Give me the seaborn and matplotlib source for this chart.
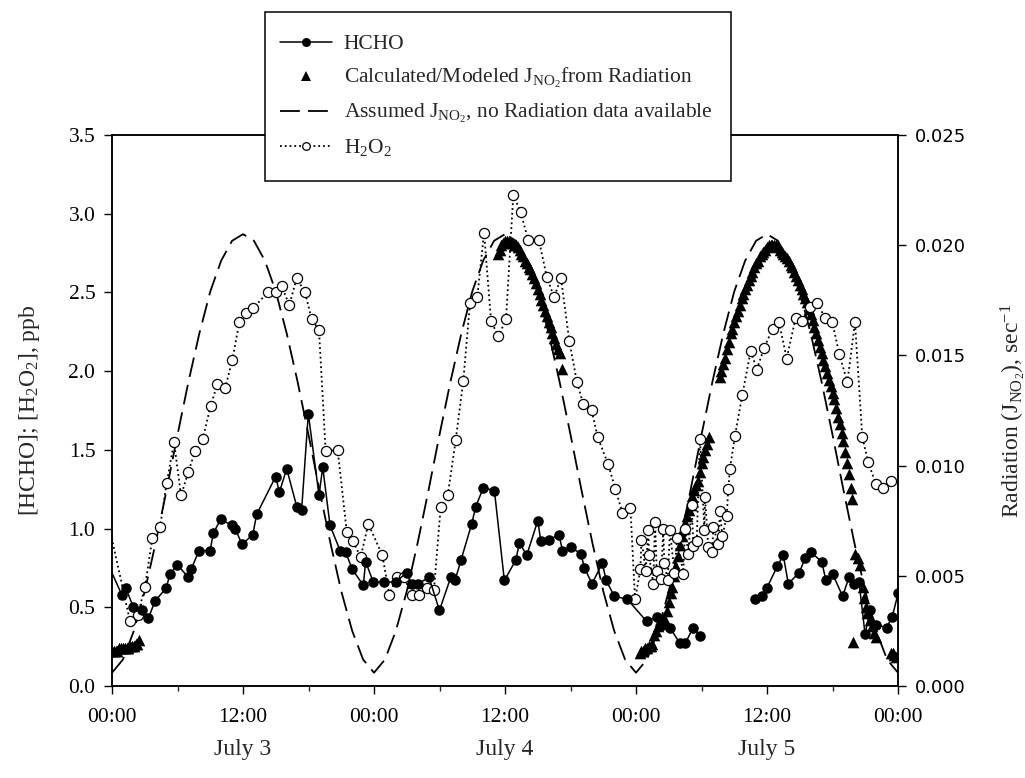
import matplotlib
matplotlib.use("Agg")
import matplotlib.pyplot as plt
import matplotlib.transforms as mtransforms
import numpy as np
import pandas as pd
import seaborn as sns
from matplotlib.lines import Line2D
from matplotlib.patches import Rectangle
from matplotlib.ticker import MultipleLocator, FixedLocator, FormatStrFormatter

sns.set_style("ticks")
plt.rcParams['font.family'] = ['Liberation Serif', 'DejaVu Serif']
plt.rcParams['mathtext.fontset'] = 'custom'
plt.rcParams['mathtext.rm'] = 'Liberation Serif'
plt.rcParams['mathtext.it'] = 'Liberation Serif:italic'
plt.rcParams['mathtext.bf'] = 'Liberation Serif:bold'

# ---------------- data (hours since July 3, 00:00) ----------------
hcho_hours = [-0.6, 0.89, 1.28, 1.95, 2.72, 3.33, 3.94, 4.95, 5.31, 5.98, 6.99, 7.24, 7.97,
              8.98, 9.28, 9.96, 10.96, 11.27, 11.91, 12.89, 13.25, 14.99, 15.33, 16.0, 16.92,
              17.37, 17.98, 18.96, 19.30, 19.97, 20.89, 21.4, 22.01, 23.02, 23.23, 23.93,
              24.94, 26.0, 26.99, 27.45, 28.06, 29.04, 29.99, 31.03, 31.42, 31.97, 32.95,
              33.32, 34.02, 35.03, 35.94, 36.99, 37.32, 37.99, 39.0, 39.28, 40.04, 40.95,
              41.26, 42.03, 42.96, 43.27, 43.97, 44.92, 45.26, 46.02, 47.21, 48.98, 49.90,
              50.2, 51.11, 52.03, 52.49, 53.25, 53.86,
              58.90, 59.51, 59.97, 60.94, 61.49, 61.95, 62.96, 63.48, 64.00, 65.01, 65.40,
              66.02, 66.93, 67.51, 67.97, 68.43, 68.98, 69.43, 69.98, 70.96, 71.47, 72.02]
hcho_ppb = [0.81, 0.58, 0.62, 0.50, 0.48, 0.43, 0.54, 0.62, 0.71, 0.77, 0.69, 0.74, 0.86,
            0.86, 0.97, 1.06, 1.02, 1.00, 0.90, 0.96, 1.09, 1.33, 1.23, 1.38, 1.14,
            1.12, 1.73, 1.21, 1.39, 1.02, 0.86, 0.85, 0.74, 0.64, 0.79, 0.66,
            0.66, 0.66, 0.72, 0.65, 0.65, 0.69, 0.48, 0.69, 0.67, 0.80, 1.03,
            1.14, 1.26, 1.24, 0.67, 0.80, 0.91, 0.83, 1.05, 0.92, 0.93, 0.96,
            0.86, 0.88, 0.84, 0.75, 0.65, 0.78, 0.67, 0.57, 0.55, 0.41, 0.44,
            0.38, 0.37, 0.27, 0.27, 0.37, 0.32,
            0.55, 0.57, 0.62, 0.76, 0.83, 0.65, 0.72, 0.81, 0.85, 0.79, 0.67,
            0.71, 0.57, 0.69, 0.65, 0.66, 0.33, 0.48, 0.39, 0.37, 0.44, 0.59]

h2o2_hours = [-0.6, 1.65, 2.35, 3.02, 3.69, 4.40, 5.01, 5.68, 6.32, 6.99, 7.60, 8.31, 9.04,
              9.65, 10.35, 11.02, 11.66, 12.27, 12.94, 14.26, 15.02, 15.54, 16.24, 16.92,
              17.68, 18.29, 18.96, 19.57, 20.67, 21.50, 22.05, 22.78, 23.48, 24.76, 25.4,
              26.08, 26.75, 27.45, 28.15, 28.82, 29.49, 30.11, 30.75, 31.48, 32.18, 32.79,
              33.46, 34.08, 34.72, 35.39, 36.09, 36.76, 37.43, 38.13, 39.11, 39.82, 40.49,
              41.13, 41.89, 42.59, 43.17, 43.94, 44.49, 45.44, 46.11, 46.76, 47.49, 47.91,
              48.40, 48.50, 48.89, 49.13, 49.19, 49.58, 49.74, 49.90, 50.29, 50.50, 50.59,
              50.90, 51.11, 51.51, 51.78, 52.33, 52.49, 52.79, 53.10, 53.25, 53.56, 53.86,
              54.26, 54.32, 54.62, 54.99, 55.08, 55.54, 55.69, 55.91, 56.31, 56.45, 56.60,
              57.07, 57.74, 58.51, 59.06, 59.75, 60.52, 61.10, 61.80, 62.63, 63.23, 63.94,
              64.61, 65.31, 65.98, 66.62, 67.36, 68.06, 68.73, 69.28, 69.98, 70.60, 71.36]
h2o2_ppb = [1.12, 0.41, 0.45, 0.63, 0.94, 1.01, 1.29, 1.55, 1.21, 1.36, 1.49, 1.57, 1.78,
            1.92, 1.89, 2.07, 2.31, 2.37, 2.40, 2.50, 2.50, 2.54, 2.42, 2.59,
            2.50, 2.33, 2.26, 1.49, 1.50, 0.98, 0.92, 0.82, 1.03, 0.83, 0.58,
            0.69, 0.69, 0.58, 0.58, 0.62, 0.61, 1.14, 1.21, 1.56, 1.94, 2.43,
            2.47, 2.88, 2.32, 2.22, 2.33, 3.12, 3.01, 2.83, 2.83, 2.60, 2.47,
            2.59, 2.19, 1.93, 1.79, 1.75, 1.58, 1.41, 1.25, 1.10, 1.13, 0.55,
            0.74, 0.93, 0.73, 0.99, 0.83, 0.65, 1.04, 0.73, 0.68, 1.00, 0.78,
            0.67, 0.99, 0.72, 0.94, 0.71, 1.00, 0.84, 1.15, 0.89, 0.92, 1.57,
            0.99, 1.20, 0.88, 0.85, 1.01, 0.90, 1.11, 0.95, 1.08, 1.25, 1.38,
            1.59, 1.85, 2.13, 2.01, 2.15, 2.27, 2.31, 2.08, 2.34, 2.32, 2.41,
            2.43, 2.34, 2.31, 2.11, 1.93, 2.31, 1.58, 1.42, 1.28, 1.26, 1.30]

# calculated J(NO2) from radiation, ~10-minute readings
jcalc_hours = [0.0, 0.17, 0.33, 0.5, 0.67, 0.83, 1.0, 1.17, 1.33, 1.5, 1.67, 1.83, 2.0,
               2.17, 2.33, 2.5,
               35.33, 35.5, 35.67, 35.83, 36.0, 36.17, 36.33, 36.5, 36.67, 36.83, 37.0,
               37.17, 37.33, 37.5, 37.67, 37.83, 38.0, 38.17, 38.33, 38.5, 38.67, 38.83,
               39.0, 39.17, 39.33, 39.5, 39.67, 39.83, 40.0, 40.17, 40.33, 40.5, 40.67,
               40.83, 41.0, 41.2,
               48.33, 48.5, 48.67, 48.83, 49.0, 49.17, 49.33, 49.5, 49.67, 49.83, 50.0,
               50.17, 50.33, 50.5, 50.67, 50.83, 51.0, 51.17, 51.33, 51.5, 51.67, 51.83,
               52.0, 52.17, 52.33, 52.5, 52.67, 52.83, 53.0, 53.17, 53.33, 53.5, 53.67,
               53.83, 54.0, 54.17, 54.33, 54.5, 54.67,
               55.67, 55.83, 56.0, 56.17, 56.33, 56.5, 56.67, 56.83, 57.0, 57.17, 57.33,
               57.5, 57.67, 57.83, 58.0, 58.17, 58.33, 58.5, 58.67, 58.83, 59.0, 59.17,
               59.33, 59.5, 59.67, 59.83, 60.0, 60.17, 60.33, 60.5, 60.67, 60.83, 61.0,
               61.17, 61.33, 61.5, 61.67, 61.83, 62.0, 62.17, 62.33, 62.5, 62.67, 62.83,
               63.0, 63.17, 63.33, 63.5, 63.67, 63.83, 64.0, 64.17, 64.33, 64.5, 64.67,
               64.83, 65.0, 65.17, 65.33, 65.5, 65.67, 65.83, 66.0, 66.17, 66.33, 66.5,
               66.67, 66.83, 67.0, 67.17, 67.33, 67.5, 67.67, 67.83,
               67.9, 68.1, 68.3, 68.5, 68.75, 68.9, 69.05, 69.2, 69.4, 69.6, 69.8, 70.0,
               71.35, 71.5, 71.65, 71.85]
jcalc_values = [0.0016, 0.0016, 0.0016, 0.0016, 0.0017, 0.0017, 0.0017, 0.0017, 0.0017,
                0.0017, 0.0018, 0.0018, 0.0018, 0.0019, 0.0019, 0.0021,
                0.0196, 0.0198, 0.0200, 0.0201, 0.0202, 0.0202, 0.0202, 0.0202, 0.0201,
                0.0200, 0.0200, 0.0199, 0.0198, 0.0196, 0.0195, 0.0193, 0.0192, 0.0190,
                0.0189, 0.0187, 0.0185, 0.0183, 0.0180, 0.0178, 0.0175, 0.0173, 0.0170,
                0.0168, 0.0165, 0.0163, 0.0160, 0.0158, 0.0155, 0.0153, 0.0151, 0.0144,
                0.0015, 0.0016, 0.0016, 0.0017, 0.0017, 0.0018, 0.0018, 0.0019, 0.0023,
                0.0025, 0.0027, 0.0028, 0.0029, 0.0030, 0.0030, 0.0034, 0.0038, 0.0042,
                0.0045, 0.0050, 0.0054, 0.0059, 0.0064, 0.0068, 0.0071, 0.0074, 0.0077,
                0.0080, 0.0082, 0.0086, 0.0089, 0.0091, 0.0093, 0.0097, 0.0101, 0.0104,
                0.0107, 0.0110, 0.0113,
                0.0140, 0.0143, 0.0146, 0.0149, 0.0153, 0.0156, 0.0160, 0.0162, 0.0165,
                0.0168, 0.0170, 0.0173, 0.0176, 0.0178, 0.0180, 0.0182, 0.0184, 0.0186,
                0.0188, 0.0190, 0.0192, 0.0193, 0.0195, 0.0196, 0.0197, 0.0198, 0.0199,
                0.0200, 0.0200, 0.0200, 0.0200, 0.0200, 0.0199, 0.0198, 0.0197, 0.0196,
                0.0195, 0.0194, 0.0193, 0.0191, 0.0190, 0.0188, 0.0186, 0.0184, 0.0182,
                0.0180, 0.0178, 0.0176, 0.0174, 0.0171, 0.0169, 0.0166, 0.0163, 0.0160,
                0.0157, 0.0154, 0.0151, 0.0148, 0.0145, 0.0142, 0.0139, 0.0136, 0.0133,
                0.0130, 0.0126, 0.0122, 0.0119, 0.0115, 0.0111, 0.0106, 0.0101, 0.0096,
                0.0090, 0.0085,
                0.0020, 0.0060, 0.0058, 0.0055, 0.0045, 0.0040, 0.0036, 0.0033, 0.0030,
                0.0027, 0.0024, 0.0022,
                0.0015, 0.0015, 0.0014, 0.0013]

jassumed_hours = list(range(0, 73))
jassumed_values = [0.0006, 0.0012, 0.0025, 0.0043, 0.0065, 0.0089, 0.0114, 0.0138, 0.0160,
                   0.0179, 0.0193, 0.0202, 0.0205, 0.0202, 0.0193, 0.0179, 0.0160, 0.0138,
                   0.0114, 0.0089, 0.0065, 0.0043, 0.0025, 0.0012,
                   0.0006, 0.0012, 0.0025, 0.0043, 0.0065, 0.0089, 0.0114, 0.0138, 0.0160,
                   0.0179, 0.0193, 0.0202, 0.0205, 0.0202, 0.0193, 0.0179, 0.0160, 0.0138,
                   0.0114, 0.0089, 0.0065, 0.0043, 0.0025, 0.0012,
                   0.0006, 0.0012, 0.0025, 0.0043, 0.0065, 0.0089, 0.0114, 0.0138, 0.0160,
                   0.0179, 0.0193, 0.0202, 0.0205, 0.0202, 0.0193, 0.0179, 0.0160, 0.0138,
                   0.0114, 0.0089, 0.0065, 0.0043, 0.0025, 0.0012, 0.0006]

x_tick_hours = [0, 12, 24, 36, 48, 60, 72]
x_tick_labels = ["00:00", "12:00", "00:00", "12:00", "00:00", "12:00", "00:00"]
day_label_hours = [12, 36, 60]
day_labels = ["July 3", "July 4", "July 5"]

# ---------------- frames ----------------
hcho_df = pd.DataFrame({"hours": hcho_hours, "ppb": hcho_ppb})
hcho_df["seg"] = np.where(hcho_df["hours"] < 56, 0, 1)
h2o2_df = pd.DataFrame({"hours": h2o2_hours, "ppb": h2o2_ppb})
jcalc_df = pd.DataFrame({"hours": jcalc_hours, "J": jcalc_values})
jass_df = pd.DataFrame({"hours": jassumed_hours, "J": jassumed_values})

# ---------------- figure ----------------
fig = plt.figure(figsize=(10.25, 7.78), dpi=100)
ax = fig.add_axes([0.1093, 0.1183, 0.7668, 0.7082])
ax2 = ax.twinx()

sns.lineplot(data=jass_df, x="hours", y="J", ax=ax2, color="black", lw=1.3,
             estimator=None, legend=False, dashes=False)
ax2.lines[-1].set_dashes((11, 4.5))
sns.scatterplot(data=jcalc_df, x="hours", y="J", ax=ax2, color="black", marker="^",
                s=70, linewidth=0, legend=False, zorder=3)

sns.lineplot(data=h2o2_df, x="hours", y="ppb", ax=ax, color="black", lw=1.3,
             linestyle=":", marker="o", markersize=7.3, markerfacecolor="white",
             markeredgecolor="black", markeredgewidth=0.9, estimator=None, legend=False)
sns.lineplot(data=hcho_df, x="hours", y="ppb", units="seg", ax=ax, color="black", lw=1.1,
             marker="o", markersize=7.6, markeredgewidth=0, estimator=None, legend=False)

# layering: left axis above the twin
ax.set_zorder(ax2.get_zorder() + 1)
ax.patch.set_visible(False)

# axes limits / ticks
ax.set_xlim(0, 72)
ax.set_ylim(0, 3.5)
ax2.set_ylim(0, 0.025)
ax.xaxis.set_major_locator(FixedLocator(x_tick_hours))
ax.set_xticklabels(x_tick_labels)
ax.xaxis.set_minor_locator(MultipleLocator(6))
ax.yaxis.set_major_locator(MultipleLocator(0.5))
ax.yaxis.set_major_formatter(FormatStrFormatter("%.1f"))
ax2.yaxis.set_major_locator(MultipleLocator(0.005))
ax2.yaxis.set_major_formatter(FormatStrFormatter("%.3f"))

for a in (ax, ax2):
    for sp in a.spines.values():
        sp.set_visible(True)
        sp.set_linewidth(1.1)
        sp.set_color("black")
ax.tick_params(axis="both", which="major", direction="out", length=6, width=1.0,
               labelsize=15.5, colors="black", pad=6)
ax.tick_params(axis="x", which="minor", direction="out", length=3.6, width=1.0)
ax.tick_params(axis="x", which="major", pad=10)
ax2.tick_params(axis="y", which="major", direction="out", length=6, width=1.0,
                labelsize=13, colors="black", labelfontfamily="DejaVu Sans", pad=6)

ax.set_xlabel("")
ax.set_ylabel("[HCHO]; [H$_2$O$_2$], ppb", fontsize=17, labelpad=19)
ax2.set_ylabel(r"Radiation (J$_{\mathrm{NO_2}}$), sec$^{-1}$", fontsize=17,
               rotation=90, labelpad=23)

trans = mtransforms.blended_transform_factory(ax.transData, ax.transAxes)
for h, lab in zip(day_label_hours, day_labels):
    ax.text(h, -0.115, lab, transform=trans, ha="center", va="center", fontsize=17)

# ---------------- legend ----------------
box = Rectangle((265 / 1025, 1 - 181 / 778), 466 / 1025, 169 / 778,
                transform=fig.transFigure, facecolor="white", edgecolor="black",
                linewidth=1.1, zorder=5)
fig.patches.append(box)

handles = [
    Line2D([], [], color="black", lw=1.1, marker="o", ms=6.5, markeredgewidth=0),
    Line2D([], [], color="black", ls="none", marker="^", ms=6.5, markeredgewidth=0),
    Line2D([], [], color="black", lw=1.3, dashes=(11, 4.5)),
    Line2D([], [], color="black", lw=1.3, ls=":", marker="o", ms=5.5,
           markerfacecolor="white", markeredgecolor="black", markeredgewidth=0.9),
]
labels = [
    "HCHO",
    r"Calculated/Modeled J$_{\mathrm{NO_2}}$from Radiation",
    r"Assumed J$_{\mathrm{NO_2}}$, no Radiation data available",
    "H$_2$O$_2$",
]
leg = fig.legend(handles, labels, loc="upper left",
                 bbox_to_anchor=(280 / 1025, 1 - 34 / 778), frameon=False,
                 fontsize=15.5, handlelength=2.4, handletextpad=0.55,
                 labelspacing=0.56, borderpad=0, borderaxespad=0)
leg.set_zorder(6)

fig.savefig("out.png", dpi=100)
